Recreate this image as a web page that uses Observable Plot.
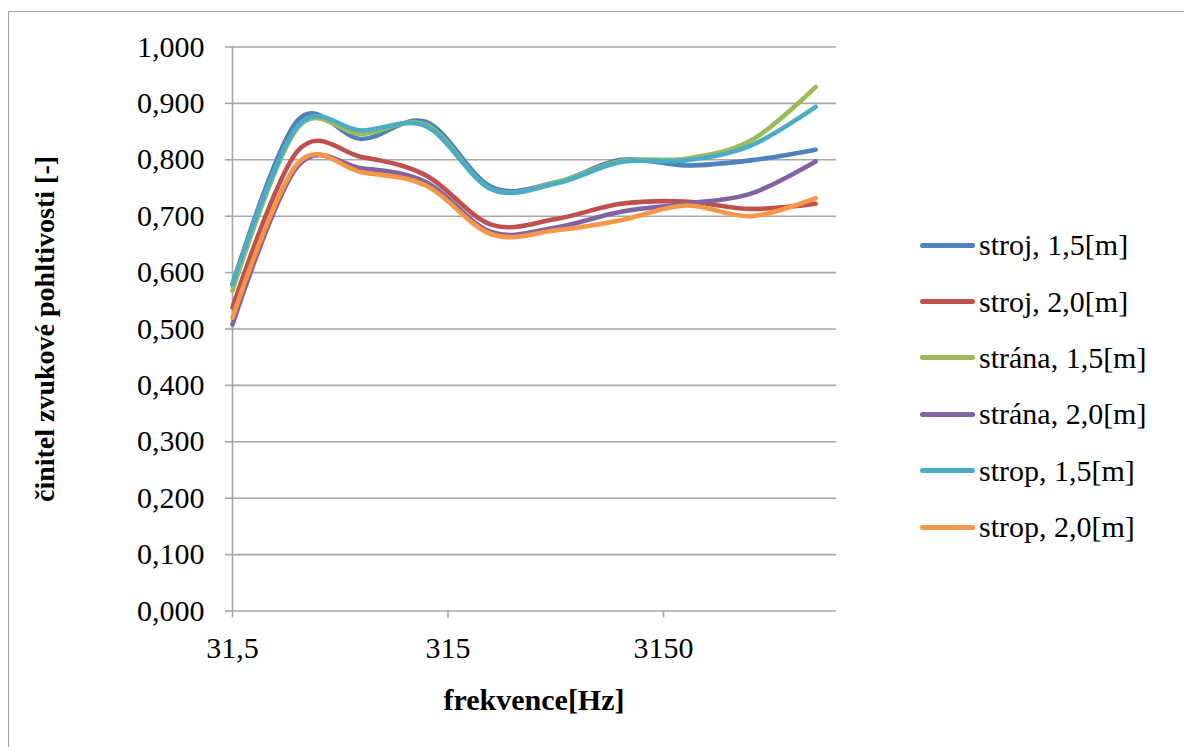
<!DOCTYPE html>
<html>
<head>
<meta charset="utf-8">
<script src="https://cdn.jsdelivr.net/npm/d3@7"></script>
<script src="https://cdn.jsdelivr.net/npm/@observablehq/plot@0.6"></script>
<style>
  body { margin: 0; background: #fff; overflow: hidden; }
  #wrap { position: relative; width: 1184px; height: 747px; overflow: hidden; font-family: "Liberation Serif", "Times New Roman", serif; color: #000; }
  #frame { position: absolute; left: 8px; top: 11px; width: 1300px; height: 900px; border: 1px solid #a6a6a6; box-sizing: border-box; }
  #chart { position: absolute; left: 0; top: 0; }
  #xtitle { position: absolute; left: 232px; width: 604px; top: 683px; text-align: center; font-weight: bold; font-size: 30px; line-height: 34px; }
  #ytitle { position: absolute; left: 45px; top: 329px; transform: translate(-50%, -50%) rotate(-90deg); white-space: nowrap; font-weight: bold; font-size: 28px; line-height: 32px; }
  #legend { position: absolute; left: 920px; top: 217px; }
  .row { display: flex; align-items: center; height: 56.4px; font-size: 30px; white-space: nowrap; }
  .sw { width: 55px; height: 5px; border-radius: 3px; margin-right: 4px; }
</style>
</head>
<body>
<div id="wrap">
  <div id="frame"></div>
  <div id="chart"></div>
  <div id="xtitle"></div>
  <div id="ytitle"></div>
  <div id="legend"></div>
</div>
<script>
// ---- data ----
const freqs = [31.5, 63, 125, 250, 500, 1000, 2000, 4000, 8000, 16000];
const seriesNames = ["stroj, 1,5[m]", "stroj, 2,0[m]", "strána, 1,5[m]", "strána, 2,0[m]", "strop, 1,5[m]", "strop, 2,0[m]"];
const stroj15  = [0.578, 0.869, 0.837, 0.867, 0.752, 0.760, 0.800, 0.790, 0.799, 0.818];
const stroj20  = [0.538, 0.815, 0.805, 0.772, 0.685, 0.695, 0.722, 0.726, 0.713, 0.722];
const strana15 = [0.568, 0.856, 0.846, 0.862, 0.748, 0.760, 0.798, 0.802, 0.834, 0.929];
const strana20 = [0.508, 0.788, 0.785, 0.760, 0.672, 0.680, 0.708, 0.722, 0.740, 0.797];
const strop15  = [0.580, 0.859, 0.852, 0.859, 0.748, 0.758, 0.796, 0.799, 0.825, 0.894];
const strop20  = [0.520, 0.793, 0.778, 0.754, 0.668, 0.675, 0.693, 0.719, 0.700, 0.732];
const colors = ["#4F81BD", "#C0504D", "#9BBB59", "#8064A2", "#4BACC6", "#F79646"];
const xTicks = [31.5, 315, 3150];
const yTicks = [0, 0.1, 0.2, 0.3, 0.4, 0.5, 0.6, 0.7, 0.8, 0.9, 1.0];
const xTitle = "frekvence[Hz]";
const yTitle = "činitel zvukové pohltivosti [-]";

// ---- tidy table ----
const allSeries = [stroj15, stroj20, strana15, strana20, strop15, strop20];
const table = [];
allSeries.forEach((vals, si) => {
  vals.forEach((v, i) => table.push({ s: seriesNames[si], f: freqs[i], v }));
});

const gray = "#a6a6a6";
const fmtY = d => d.toFixed(3).replace(".", ",");
const fmtX = d => String(d).replace(".", ",");

const chart = Plot.plot({
  width: 900,
  height: 747,
  marginLeft: 232,
  marginRight: 64,
  marginTop: 46.5,
  marginBottom: 136.5,
  style: { fontFamily: "Liberation Serif, Times New Roman, serif", fontSize: "30px", background: "transparent", color: "#000", overflow: "visible" },
  x: { type: "log", domain: [31.5, 20000] },
  y: { domain: [0, 1] },
  color: { domain: seriesNames, range: colors },
  marks: [
    Plot.ruleY(yTicks, { stroke: gray, strokeWidth: 1.6 }),
    Plot.ruleX([xTicks[0]], { stroke: gray, strokeWidth: 1.6 }),
    Plot.axisY({ ticks: yTicks, tickFormat: fmtY, tickSize: 7, tickPadding: 21, stroke: gray, strokeWidth: 1.6, strokeOpacity: 1, fill: "#000", label: null }),
    Plot.axisX({ ticks: xTicks, tickFormat: fmtX, tickSize: 7, tickPadding: 19, stroke: gray, strokeWidth: 1.6, strokeOpacity: 1, fill: "#000", label: null }),
    Plot.line(table, { x: "f", y: "v", z: "s", stroke: "s", strokeWidth: 4.6, strokeLinecap: "round", strokeLinejoin: "round", curve: d3.curveCatmullRom.alpha(0) })
  ]
});
document.getElementById("chart").appendChild(chart);

document.getElementById("xtitle").textContent = xTitle;
document.getElementById("ytitle").textContent = yTitle;

const legend = document.getElementById("legend");
seriesNames.forEach((name, i) => {
  const row = document.createElement("div");
  row.className = "row";
  const sw = document.createElement("div");
  sw.className = "sw";
  sw.style.background = colors[i];
  const t = document.createElement("span");
  t.textContent = name;
  row.appendChild(sw);
  row.appendChild(t);
  legend.appendChild(row);
});
</script>
</body>
</html>
